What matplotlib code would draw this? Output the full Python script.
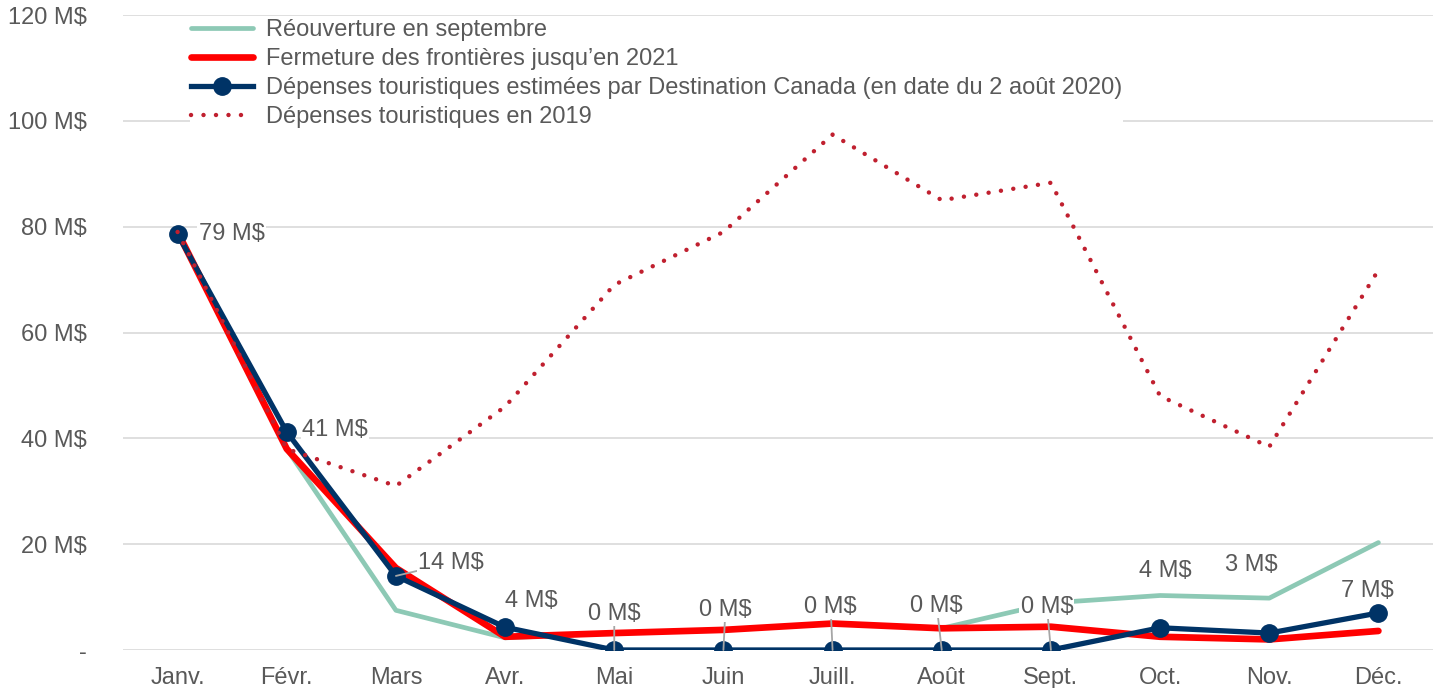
import numpy as np
import matplotlib.pyplot as plt

plt.rcParams['font.family'] = ['Liberation Sans', 'DejaVu Sans']

# data (M$)
months = ['Janv.', 'Févr.', 'Mars', 'Avr.', 'Mai', 'Juin', 'Juill.', 'Août',
          'Sept.', 'Oct.', 'Nov.', 'Déc.']
reouverture = [79, 38, 7.5, 2.3, 3.2, 3.8, 5.0, 4.1, 8.9, 10.3, 9.8, 20.3]
fermeture = [79, 38, 15.5, 2.5, 3.2, 3.8, 5.0, 4.1, 4.4, 2.5, 2.0, 3.6]
estimees = [78.6, 41.2, 14, 4.3, 0, 0, 0, 0, 0, 4.2, 3.2, 7.0]
depenses_2019 = [79, 38, 31, 46, 69, 79, 97.4, 85, 88.3, 48, 38.4, 71.8]
point_labels = ['79 M$', '41 M$', '14 M$', '4 M$', '0 M$', '0 M$', '0 M$',
                '0 M$', '0 M$', '4 M$', '3 M$', '7 M$']
y_ticks = [0, 20, 40, 60, 80, 100, 120]
y_ticklabels = ['-', '20 M$', '40 M$', '60 M$', '80 M$', '100 M$', '120 M$']

green = '#8DC9B5'
red = '#FF0000'
navy = '#003366'
darkred = '#C0202F'
grey_txt = '#595959'
grid_col = '#D9D9D9'
fs = 17

fig = plt.figure(figsize=(14.33, 6.88), dpi=100)
ax = fig.add_axes([123 / 1433, 38 / 688, 1 - 123 / 1433, 635 / 688])

x = np.arange(len(months))
ax.plot(x, reouverture, color=green, lw=3.4, zorder=3, solid_capstyle='round',
        label='Réouverture en septembre')
ax.plot(x, fermeture, color=red, lw=4.8, zorder=4, solid_capstyle='round',
        label='Fermeture des frontières jusqu’en 2021')
ax.plot(x, estimees, color=navy, lw=3.8, marker='o', ms=12.5, zorder=5,
        label='Dépenses touristiques estimées par Destination Canada (en date du 2 août 2020)')
ax.plot(x, depenses_2019, color=darkred, lw=3.2, linestyle=(0, (0.01, 2.8)),
        dash_capstyle='round', zorder=6, label='Dépenses touristiques en 2019')

# label offsets in pixels (centre of text relative to point), leader line or not
offsets = [(54, 0, False), (48, 2, False), (55, 13, True), (26, 26, False),
           (0, 36, True), (2, 40, True), (-2, 43, True), (-5, 44, True),
           (-4, 43, True), (5, 57, False), (-18, 68, False), (-11, 22, False)]
for i, (lab, (dx, dy, lead)) in enumerate(zip(point_labels, offsets)):
    arrow = None
    if lead:
        arrow = dict(arrowstyle='-', color='#A6A6A6', lw=1.3, shrinkA=0, shrinkB=0)
    ax.annotate(lab, (x[i], estimees[i]), xytext=(dx, dy), textcoords='offset pixels',
                ha='center', va='center', fontsize=fs, color=grey_txt, zorder=8,
                bbox=dict(boxstyle='square,pad=0.05', fc='white', ec='none'),
                arrowprops=arrow)

ax.set_xlim(-0.5, len(months) - 0.5)
ax.set_ylim(0, 120)
ax.set_xticks(x)
ax.set_xticklabels(months)
ax.set_yticks(y_ticks)
ax.set_yticklabels(y_ticklabels)
ax.tick_params(length=0, labelsize=fs, labelcolor=grey_txt)
ax.tick_params(axis='x', pad=12.5)
ax.tick_params(axis='y', pad=26)
ax.grid(axis='y', color=grid_col, lw=1.2, zorder=0)
ax.set_axisbelow(True)
for s in ax.spines.values():
    s.set_visible(False)

leg = ax.legend(loc='upper left', bbox_to_anchor=(190 / 1433, 1 - 18 / 688),
                bbox_transform=fig.transFigure, frameon=True, fancybox=False,
                framealpha=1, facecolor='white', edgecolor='none', fontsize=fs,
                handlelength=2.6, handletextpad=0.55, labelspacing=0.3,
                borderpad=0.05, borderaxespad=0)
for t in leg.get_texts():
    t.set_color(grey_txt)
leg.set_zorder(7)

fig.savefig('out.png', dpi=100)
